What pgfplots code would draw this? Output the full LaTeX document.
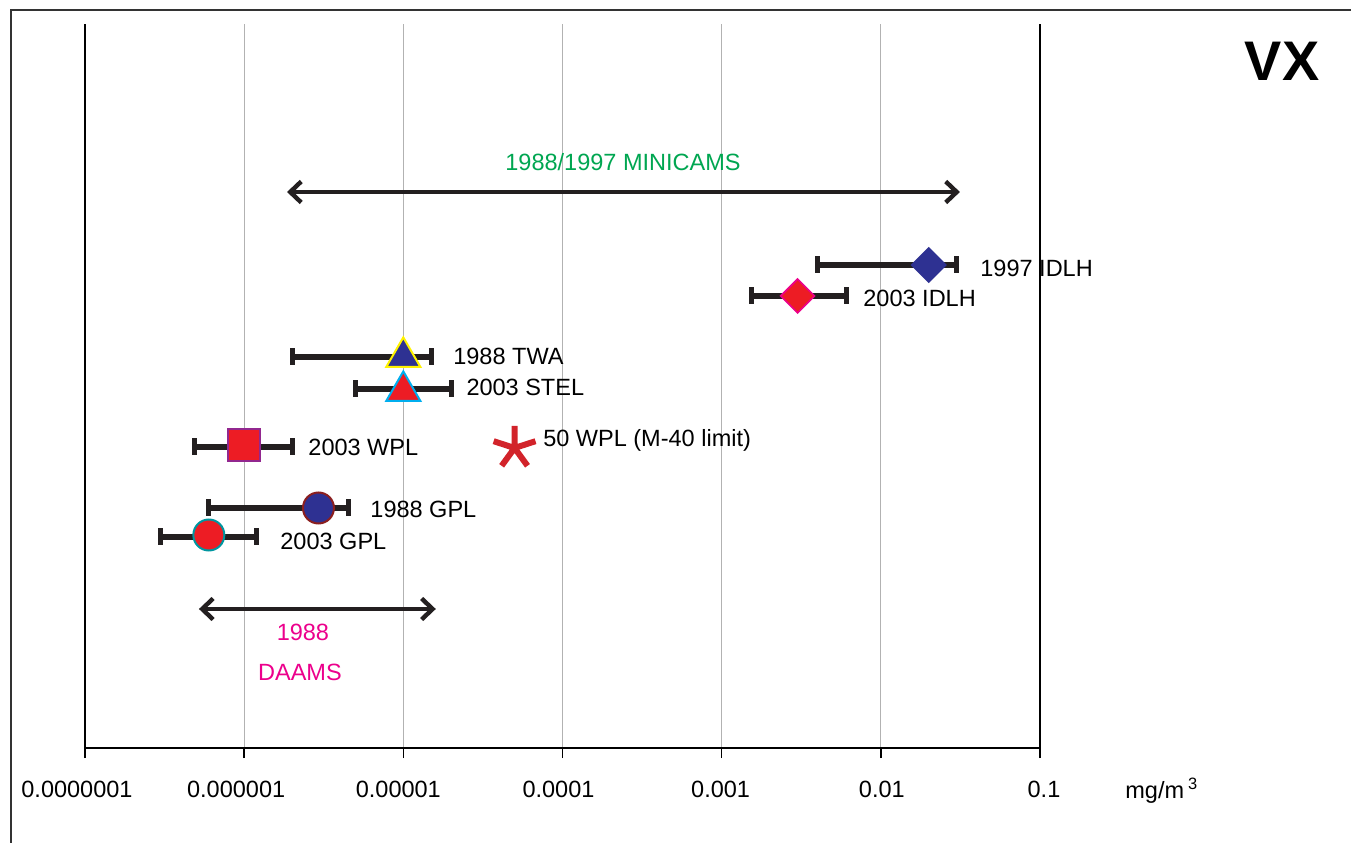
\documentclass[border=0pt]{standalone}
\usepackage{pgfplots}
\pgfplotsset{compat=1.18}
\usetikzlibrary{arrows.meta}
\usepackage{fontspec}
\setmainfont{Liberation Sans}
\definecolor{mblue}{HTML}{2E3192}
\definecolor{mred}{HTML}{ED1C24}
\definecolor{myellow}{HTML}{FFF200}
\definecolor{mcyan}{HTML}{00AEEF}
\definecolor{mpurple}{HTML}{92278F}
\definecolor{mdarkred}{HTML}{8B1F1F}
\definecolor{mteal}{HTML}{0096A0}
\definecolor{mmagenta}{HTML}{EC008C}
\definecolor{mgreen}{HTML}{00A651}
\definecolor{mstar}{HTML}{D2232A}
\definecolor{mbar}{HTML}{231F20}
\newcommand{\lbl}{\fontsize{11.8}{14}\selectfont}
\begin{document}
\begin{tikzpicture}
\path[use as bounding box] (-42.5bp,-47.5bp) rectangle (633bp,374bp);
\draw[line width=1bp, black!80] (-37bp,-47.5bp) -- (-37bp,369bp) -- (633bp,369bp);
\begin{axis}[
  at={(0,0)}, anchor=south west,
  scale only axis, width=477.5bp, height=362bp,
  xmode=log, xmin=1e-7, xmax=0.1, ymin=0, ymax=724,
  axis x line*=bottom, axis y line*=left,
  axis line style={-, black, line width=0.75bp},
  xtick={1e-7,1e-6,1e-5,1e-4,1e-3,1e-2,1e-1},
  xticklabels={{0.0000001\kern8bp},{0.000001\kern8bp},{0.00001\kern5bp},{0.0001\kern4bp},{0.001\kern1bp},{\kern1bp0.01},{\kern4bp0.1}},
  xminorticks=false, ytick=\empty,
  tick align=outside, major tick length=5bp,
  tick style={black, line width=0.75bp},
  xmajorgrids, major grid style={gray!60, line width=0.6bp},
  xticklabel style={anchor=center, yshift=-15.5bp, font=\lbl},
  clip=false,
]
\draw[black, line width=0.75bp] (axis cs:0.1,0) -- (axis cs:0.1,724);
% range arrows
\addplot[mbar, line width=2.2bp, arrows={Straight Barb[length=5.5bp,width=10.5bp]-Straight Barb[length=5.5bp,width=10.5bp]}] coordinates {(1.86e-6,556) (0.0314,556)};
\addplot[mbar, line width=2.2bp, arrows={Straight Barb[length=5.5bp,width=10.5bp]-Straight Barb[length=5.5bp,width=10.5bp]}] coordinates {(5.2e-7,139) (1.6e-5,139)};
% error bars
\addplot[mbar, line width=3bp, mark=|, mark size=4.25bp, mark options={line width=2.5bp}] coordinates {(0.004,483) (0.030,483)};
\addplot[mbar, line width=3bp, mark=|, mark size=4.25bp, mark options={line width=2.5bp}] coordinates {(0.00155,452) (0.0061,452)};
\addplot[mbar, line width=3bp, mark=|, mark size=4.25bp, mark options={line width=2.5bp}] coordinates {(2e-6,391) (1.5e-5,391)};
\addplot[mbar, line width=3bp, mark=|, mark size=4.25bp, mark options={line width=2.5bp}] coordinates {(5e-6,359) (2e-5,359)};
\addplot[mbar, line width=3bp, mark=|, mark size=4.25bp, mark options={line width=2.5bp}] coordinates {(4.9e-7,301) (2e-6,301)};
\addplot[mbar, line width=3bp, mark=|, mark size=4.25bp, mark options={line width=2.5bp}] coordinates {(6e-7,240) (4.5e-6,240)};
\addplot[mbar, line width=3bp, mark=|, mark size=4.25bp, mark options={line width=2.5bp}] coordinates {(3e-7,211) (1.2e-6,211)};
% markers
\addplot[only marks, mark=square*, mark size=6bp, mark options={rotate=45, fill=mblue, draw=mblue, line width=0.8bp}] coordinates {(0.02,483)};
\addplot[only marks, mark=square*, mark size=6bp, mark options={rotate=45, fill=mred, draw=mmagenta, line width=0.8bp}] coordinates {(0.003,452)};
\addplot[only marks, mark=triangle*, mark size=9.8bp, mark options={fill=mblue, draw=myellow, line width=1bp}] coordinates {(1e-5,391)};
\addplot[only marks, mark=triangle*, mark size=9.8bp, mark options={fill=mred, draw=mcyan, line width=1bp}] coordinates {(1e-5,357)};
\addplot[only marks, mark=square*, mark size=8bp, mark options={fill=mred, draw=mpurple, line width=1bp}] coordinates {(1e-6,303)};
\addplot[only marks, mark=star, mark size=11bp, mark options={draw=mstar, line width=3bp}] coordinates {(5e-5,300)};
\addplot[only marks, mark=*, mark size=7.75bp, mark options={fill=mblue, draw=mdarkred, line width=1bp}] coordinates {(2.93e-6,240)};
\addplot[only marks, mark=*, mark size=7.75bp, mark options={fill=mred, draw=mteal, line width=1bp}] coordinates {(6e-7,213)};
% labels
\node[anchor=center, inner sep=0, font=\lbl, text=mgreen] at (axis cs:2.4e-4,586) {1988/1997 MINICAMS};
\node[anchor=west, inner sep=0, font=\lbl] at (axis cs:0.042,480) {1997 IDLH};
\node[anchor=west, inner sep=0, font=\lbl] at (axis cs:0.00773,450) {2003 IDLH};
\node[anchor=west, inner sep=0, font=\lbl] at (axis cs:2.05e-5,392) {1988 TWA};
\node[anchor=west, inner sep=0, font=\lbl] at (axis cs:2.48e-5,361) {2003 STEL};
\node[anchor=west, inner sep=0, font=\lbl] at (axis cs:2.52e-6,301) {2003 WPL};
\node[anchor=west, inner sep=0, font=\lbl] at (axis cs:7.53e-5,308) {50 WPL (M-40 limit)};
\node[anchor=west, inner sep=0, font=\lbl] at (axis cs:6.18e-6,239) {1988 GPL};
\node[anchor=west, inner sep=0, font=\lbl] at (axis cs:1.68e-6,207) {2003 GPL};
\node[anchor=center, inner sep=0, font=\lbl, text=mmagenta] at (axis cs:2.34e-6,116) {1988};
\node[anchor=center, inner sep=0, font=\lbl, text=mmagenta] at (axis cs:2.24e-6,76) {DAAMS};
\end{axis}
\node[anchor=center, inner sep=0, font=\fontsize{28}{34}\selectfont\bfseries] at (598.5bp,343.5bp) {VX};
\node[anchor=base west, inner sep=0, font=\lbl] at (520bp,-25bp) {mg/m\,\textsuperscript{3}};
\end{tikzpicture}
\end{document}
